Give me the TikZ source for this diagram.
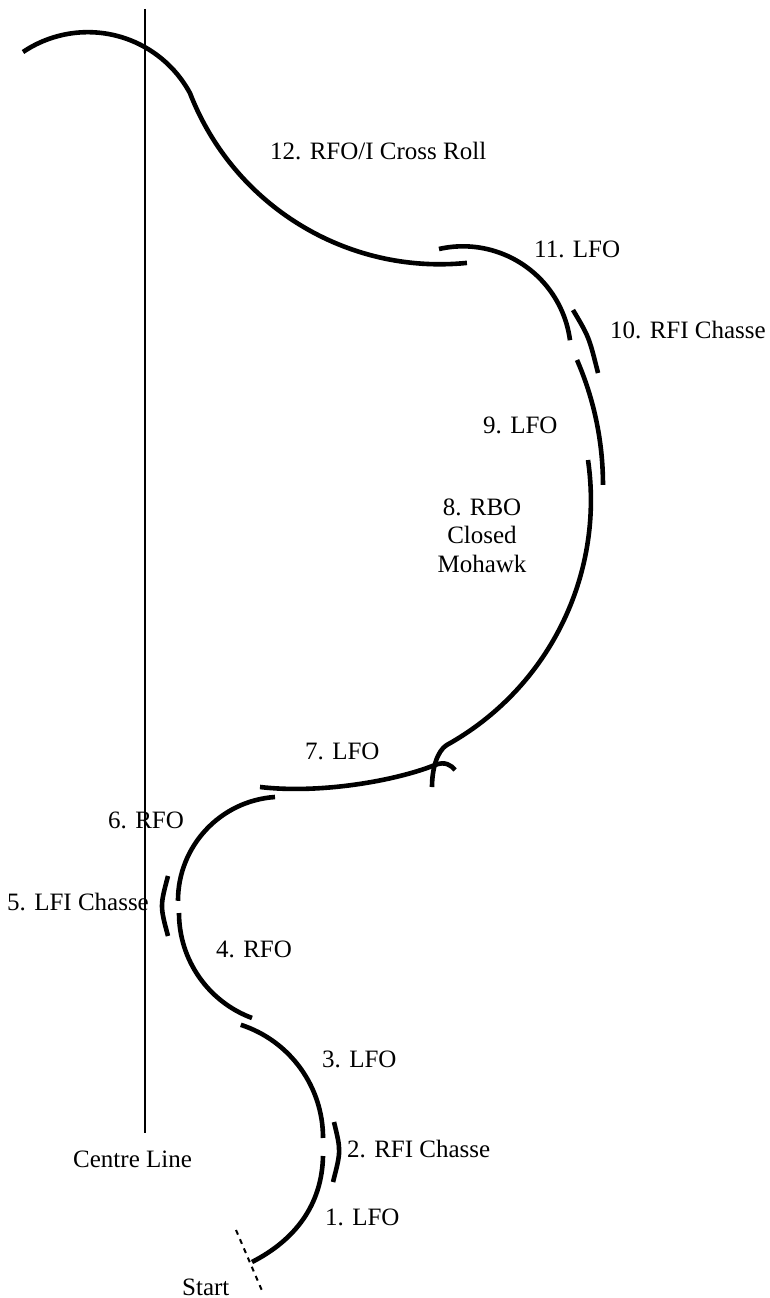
\documentclass[tikz,border=0pt]{standalone}
\usepackage{fontspec}
\setmainfont{Liberation Serif}
\begin{document}
\begin{tikzpicture}[x=1pt,y=-1pt,
  trace/.style={line width=4.6pt},
  axis/.style={line width=1.6pt},
  startmark/.style={line width=2pt, dash pattern=on 5pt off 5pt},
  lbl/.style={inner sep=0pt, anchor=base west, font=\fontsize{25}{28}\selectfont}]
\useasboundingbox (0,0) rectangle (770,1298);

% centre line of the rink
\draw[axis] (145,9) -- (145,1133);
\node[lbl] (centre) at (73,1167) {Centre Line};

% 1. LFO
\draw[trace] (323,1156) .. controls (322,1205) and (295,1240) .. (252,1262);
% start mark
\draw[startmark] (236,1230) -- (263,1293);
\node[lbl] (start) at (182,1295) {Start};
\node[lbl] (e1) at (325,1225) {1. LFO};

% 2. RFI Chasse
\draw[trace] (334,1122) .. controls (341,1151) .. (333,1182);
\node[lbl] (e2) at (347,1157) {2. RFI Chasse};

% 3. LFO
\draw[trace] (240.8,1024.8) arc[start angle=-72, end angle=0, radius=119];
\node[lbl] (e3) at (322,1067) {3. LFO};

% 4. RFO
\draw[trace] (179,913) arc[start angle=180, end angle=110.4, radius=112];
\node[lbl] (e4) at (216,957) {4. RFO};

% 5. LFI Chasse
\draw[trace] (168,876) .. controls (160,906) .. (168,936);
\node[lbl] (e5) at (7,910) {5. LFI Chasse};

% 6. RFO
\draw[trace] (275,797) arc[start angle=-93.85, end angle=-180, radius=104];
\node[lbl] (e6) at (108,828) {6. RFO};

% 7. LFO
\draw[trace] (260,787) .. controls (320,794) and (395,781) .. (435,765)
  .. controls (445,761) and (451,765) .. (455,770);
\node[lbl] (e7) at (305,759) {7. LFO};

% 8. RBO closed mohawk
\draw[trace] (588,460) arc[start angle=-8.25, end angle=61, radius=280]
  .. controls (437.5,750.8) and (432,768) .. (432,787);
\node[inner sep=0pt, align=center, font=\fontsize{25}{28.5}\selectfont, anchor=base]
  (e8) at (482,572) {8. RBO\\Closed\\Mohawk};

% 9. LFO
\draw[trace] (577,360) arc[start angle=-23.5, end angle=0, radius=313];
\node[lbl] (e9) at (483,433) {9. LFO};

% 10. RFI Chasse
\draw[trace] (573,310) .. controls (589,337) .. (598,373);
\node[lbl] (e10) at (610,338) {10. RFI Chasse};

% 11. LFO
\draw[trace] (439,249) arc[start angle=-102.8, end angle=-7.5, radius=108];
\node[lbl] (e11) at (534,257) {11. LFO};

% 12. RFO/I cross roll
\draw[trace] (23,52) arc[start angle=-124, end angle=-28.3, radius=116]
  arc[start angle=158.8, end angle=84.2, radius=268];
\node[lbl] (e12) at (270,159) {12. RFO/I Cross Roll};
\end{tikzpicture}
\end{document}
